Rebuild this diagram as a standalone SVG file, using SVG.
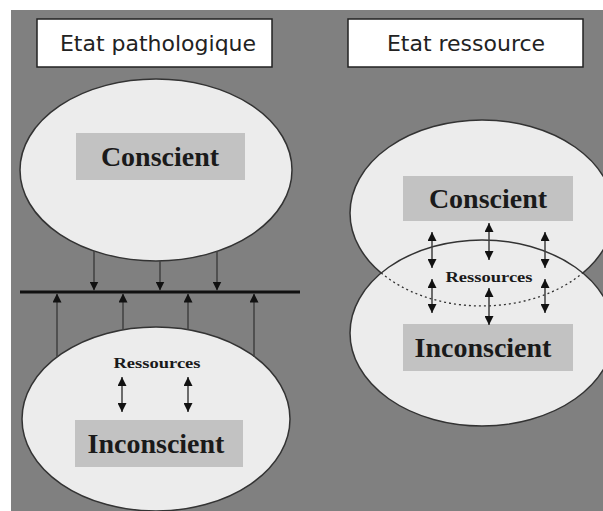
<svg xmlns="http://www.w3.org/2000/svg" width="603" height="511" viewBox="0 0 603 511">
<style>
.bg{fill:#808080}
.title{fill:#ffffff;stroke:#222;stroke-width:1.5}
.tt{font-family:"DejaVu Sans",sans-serif;font-size:22px;fill:#222;text-anchor:middle}
.ell{fill:#ececec;stroke:#333;stroke-width:1.5}
.lbl{fill:#c2c2c2}
.big{font-family:"Liberation Serif",serif;font-weight:bold;font-size:28px;fill:#1a1a1a;text-anchor:middle}
.res{font-family:"Liberation Serif",serif;font-weight:bold;font-size:15px;fill:#1a1a1a;text-anchor:middle}
.arr{stroke:#404040;stroke-width:1.5;fill:none}
.bar{stroke:#111;stroke-width:3}
</style>
<defs>
<marker id="ah" viewBox="0 0 10 10" refX="10" refY="5" markerWidth="9" markerHeight="9" markerUnits="userSpaceOnUse" orient="auto-start-reverse">
<path d="M0,0 L10,5 L0,10 z" fill="#111"/>
</marker>
</defs>
<rect x="0" y="0" width="603" height="511" fill="#ffffff"/>
<rect class="bg" x="11" y="10" width="592" height="501"/>

<g id="title-pathologique">
<rect class="title" x="37" y="19" width="235" height="48"/>
<text class="tt" x="158" y="51">Etat pathologique</text>
</g>
<g id="title-ressource">
<rect class="title" x="348" y="19" width="235" height="48"/>
<text class="tt" x="466" y="51">Etat ressource</text>
</g>

<g id="left-conscient">
<ellipse class="ell" cx="156" cy="170" rx="136" ry="91"/>
<rect class="lbl" x="76" y="133" width="169" height="47"/>
<text class="big" x="160" y="166">Conscient</text>
</g>
<g id="left-inconscient">
<ellipse class="ell" cx="156" cy="419" rx="134" ry="92"/>
<rect class="lbl" x="75" y="420" width="168" height="47"/>
<text class="big" x="156" y="453">Inconscient</text>
<text class="res" x="157" y="368" textLength="87" lengthAdjust="spacingAndGlyphs">Ressources</text>
</g>

<g id="right-conscient">
<ellipse class="ell" cx="482" cy="213" rx="132" ry="93"/>
</g>
<g id="right-inconscient">
<ellipse class="ell" cx="482" cy="333" rx="132" ry="93"/>
<path d="M381.2,273 A132,93 0 0 0 582.8,273" fill="none" stroke="#333" stroke-width="1.3" stroke-dasharray="2,3"/>
<rect class="lbl" x="403" y="176" width="170" height="45"/>
<text class="big" x="488" y="208">Conscient</text>
<rect class="lbl" x="403" y="324" width="170" height="47"/>
<text class="big" x="483" y="357">Inconscient</text>
<text class="res" x="489" y="282" textLength="87" lengthAdjust="spacingAndGlyphs">Ressources</text>
</g>

<g id="connectors">
<line class="bar" x1="20" y1="292" x2="300" y2="292"/>
<line class="arr" x1="94" y1="251" x2="94" y2="290.5" marker-end="url(#ah)"/>
<line class="arr" x1="160" y1="261" x2="160" y2="290.5" marker-end="url(#ah)"/>
<line class="arr" x1="217" y1="251" x2="217" y2="290.5" marker-end="url(#ah)"/>
<line class="arr" x1="57" y1="357" x2="57" y2="293.5" marker-end="url(#ah)"/>
<line class="arr" x1="123" y1="330" x2="123" y2="293.5" marker-end="url(#ah)"/>
<line class="arr" x1="188" y1="330" x2="188" y2="293.5" marker-end="url(#ah)"/>
<line class="arr" x1="254" y1="357" x2="254" y2="293.5" marker-end="url(#ah)"/>
<line class="arr" x1="122" y1="377" x2="122" y2="412" marker-start="url(#ah)" marker-end="url(#ah)"/>
<line class="arr" x1="188" y1="377" x2="188" y2="412" marker-start="url(#ah)" marker-end="url(#ah)"/>
<line class="arr" x1="432" y1="232" x2="432" y2="268" marker-start="url(#ah)" marker-end="url(#ah)"/>
<line class="arr" x1="432" y1="279" x2="432" y2="313" marker-start="url(#ah)" marker-end="url(#ah)"/>
<line class="arr" x1="489" y1="223" x2="489" y2="260" marker-start="url(#ah)" marker-end="url(#ah)"/>
<line class="arr" x1="489" y1="288" x2="489" y2="325" marker-start="url(#ah)" marker-end="url(#ah)"/>
<line class="arr" x1="545" y1="232" x2="545" y2="268" marker-start="url(#ah)" marker-end="url(#ah)"/>
<line class="arr" x1="545" y1="279" x2="545" y2="313" marker-start="url(#ah)" marker-end="url(#ah)"/>
</g>
</svg>
